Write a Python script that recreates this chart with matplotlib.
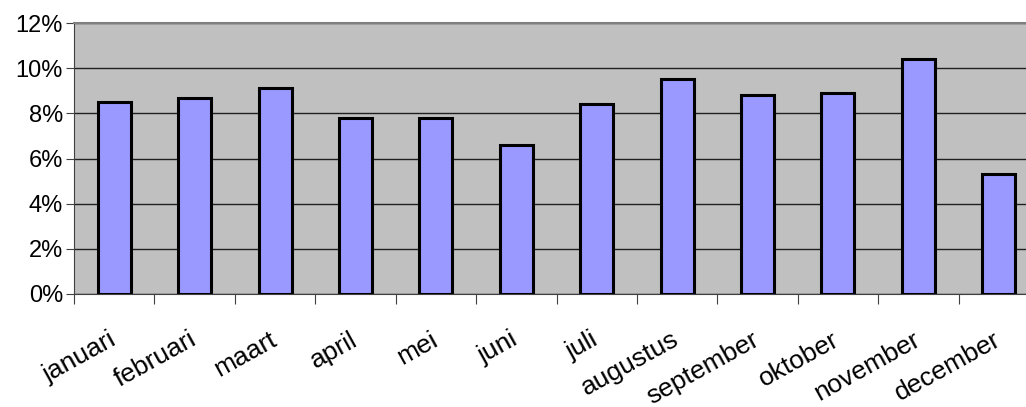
import matplotlib
matplotlib.use("Agg")
import matplotlib.pyplot as plt
from matplotlib.ticker import FuncFormatter
import matplotlib.transforms as mtransforms
import numpy as np

# maanden en percentages
maanden = ["januari", "februari", "maart", "april", "mei", "juni", "juli",
           "augustus", "september", "oktober", "november", "december"]
waarden = [8.5, 8.7, 9.1, 7.8, 7.8, 6.6, 8.4, 9.5, 8.8, 8.9, 10.4, 5.3]
y_ticks = [0, 2, 4, 6, 8, 10, 12]

plt.rcParams['font.family'] = ['Liberation Sans', 'DejaVu Sans']

fig = plt.figure(figsize=(10.26, 4.07), dpi=100)
W, H = 1026, 407
left, right, top, bottom = 74, 1039, 23, 294
ax = fig.add_axes([left / W, 1 - bottom / H, (right - left) / W, (bottom - top) / H])
ax.set_facecolor("#c0c0c0")

x = np.arange(len(maanden))
ax.bar(x + 0.5, waarden, width=0.41, color="#9999ff", edgecolor="black",
       linewidth=2.2, zorder=3)

ax.set_xlim(0, len(maanden))
ax.set_ylim(0, 12)
ax.set_yticks(y_ticks)
ax.yaxis.set_major_formatter(FuncFormatter(lambda v, p: f"{v:.0f}%"))
ax.yaxis.grid(True, color="#202020", linewidth=1.0, zorder=1)

# categorie-ticks op de grenzen, labels in het midden
ax.set_xticks(x)
ax.set_xticklabels([])
ax.set_xticks(x + 0.5, minor=True)
ax.set_xticklabels(maanden, minor=True, rotation=29, ha="right",
                   rotation_mode="anchor", fontsize=19)
ax.tick_params(axis="x", which="minor", length=0, pad=24)
ax.tick_params(axis="x", which="major", length=7, color="#404040", direction="out")
ax.tick_params(axis="y", length=6, color="#404040", labelsize=17, pad=2)

# labels iets naar links schuiven
shift = mtransforms.ScaledTranslation(-6 / 100, 0, fig.dpi_scale_trans)
for lbl in ax.get_xticklabels(minor=True):
    lbl.set_transform(lbl.get_transform() + shift)

for s in ["top", "right"]:
    ax.spines[s].set_color("#808080")
    ax.spines[s].set_linewidth(1.5)
ax.spines["left"].set_color("#404040")
ax.spines["bottom"].set_color("#404040")

fig.savefig("out.png", dpi=100)
